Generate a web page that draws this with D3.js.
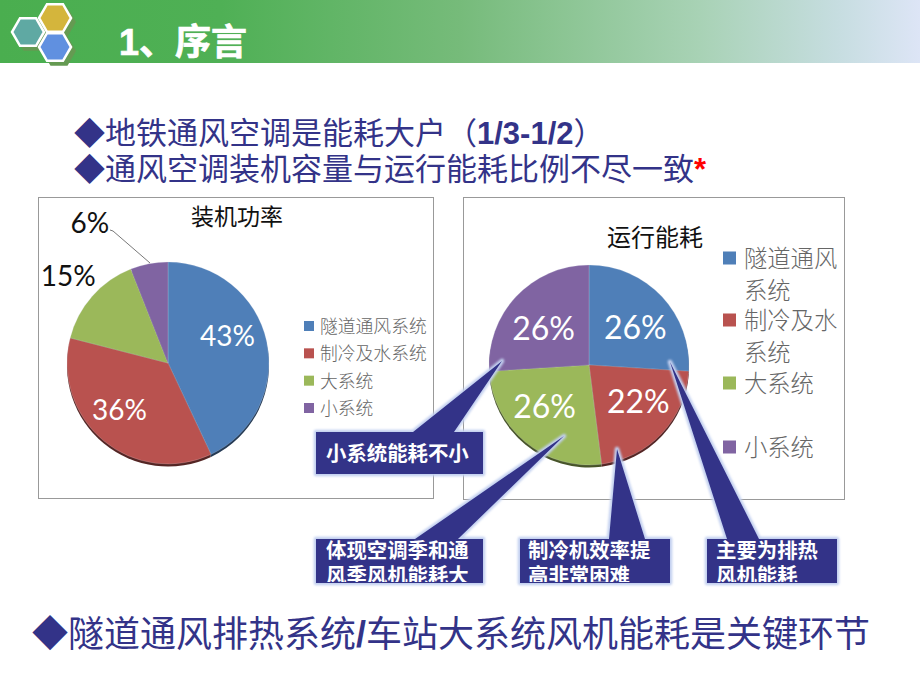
<!DOCTYPE html>
<html>
<head>
<meta charset="utf-8">
<script src="https://cdn.jsdelivr.net/npm/d3@7"></script>
<style>
  html, body { margin: 0; background: #fff; }
  text { font-family: "Liberation Sans", "Noto Sans CJK SC", sans-serif; }
</style>
</head>
<body>
<div id="viz"></div>
<script>
const width = 920;
const height = 690;

// chart values
const categories = ['隧道通风系统', '制冷及水系统', '大系统', '小系统'];
const powerShares = [43, 36, 15, 6];
const energyShares = [26, 22, 26, 26];
const sliceColors = ['#4f7fb8', '#b9524f', '#9bb85a', '#8064a2'];

// label nudges from the slice centroid, the pptx had these dragged around by hand
const powerNudges = [[-4, -13], [-7, -3], [-51, -44], [-66, -76]];
const energyNudges = [[-1, 7], [2, -8], [-3, -9], [2, 8]];

const navy = '#333388';

const svg = d3.select('#viz')
  .append('svg')
    .attr('width', width)
    .attr('height', height)
    .style('display', 'block');

const defs = svg.append('defs');

const headerGradient = defs.append('linearGradient').attr('id', 'headerGradient');
[[0, '#4aae4f'], [0.24, '#4fb055'], [0.5, '#76bb7a'], [0.76, '#a8d2b5'], [0.91, '#c6dde0'], [1, '#dde5f6']]
  .forEach(s => headerGradient.append('stop').attr('offset', s[0]).attr('stop-color', s[1]));

defs.append('filter').attr('id', 'glow')
  .attr('x', '-20%').attr('y', '-20%').attr('width', '140%').attr('height', '140%')
  .append('feGaussianBlur').attr('stdDeviation', 1.3);

// header band
svg.append('rect')
  .attr('width', width)
  .attr('height', 63)
  .attr('fill', 'url(#headerGradient)');

// hexagons in the corner
const hexLine = d3.line().curve(d3.curveLinearClosed);
const hexPoints = (cx, cy, r) => d3.range(6).map(i => [
  cx + r * Math.cos(i * Math.PI / 3),
  cy + r * Math.sin(i * Math.PI / 3)
]);
const hexagons = [
  {cx: 28, cy: 32, color: '#5fa9a3'},
  {cx: 55, cy: 18, color: '#d4b53c'},
  {cx: 55, cy: 47, color: '#6090e0'}
];
svg.selectAll('.hexShadow')
  .data(hexagons)
  .join('path')
    .attr('class', 'hexShadow')
    .attr('d', d => hexLine(hexPoints(d.cx + 4, d.cy + 4, 17)))
    .attr('fill', '#659a52');
svg.selectAll('.hex')
  .data(hexagons)
  .join('path')
    .attr('class', 'hex')
    .attr('d', d => hexLine(hexPoints(d.cx, d.cy, 16)))
    .attr('fill', d => d.color)
    .attr('stroke', '#fff')
    .attr('stroke-width', 2.5);

svg.append('text')
  .attr('x', 119)
  .attr('y', 55)
  .attr('fill', '#fff')
  .attr('stroke', '#fff')
  .attr('stroke-width', 0.7)
  .attr('font-size', 36)
  .attr('font-weight', 'bold')
  .text('1、序言');

// bullet lines
function bullet(x, y, size) {
  svg.append('text')
    .attr('x', x)
    .attr('y', y)
    .attr('fill', navy)
    .attr('font-size', size)
    .text('◆');
}
bullet(74, 144, 31);
const line1 = svg.append('text').attr('x', 105).attr('y', 144).attr('fill', navy).attr('font-size', 31);
line1.append('tspan').text('地铁通风空调是能耗大户（');
line1.append('tspan').attr('font-weight', 'bold').text('1/3-1/2');
line1.append('tspan').text('）');

bullet(74, 180, 31);
const line2 = svg.append('text').attr('x', 105).attr('y', 180).attr('fill', navy).attr('font-size', 31);
line2.append('tspan').text('通风空调装机容量与运行能耗比例不尽一致');
line2.append('tspan').attr('fill', '#f00').attr('font-weight', 'bold').text('*');

bullet(32, 647, 36);
const line3 = svg.append('text').attr('x', 68).attr('y', 647).attr('fill', navy).attr('font-size', 36);
line3.append('tspan').text('隧道通风排热系统');
line3.append('tspan').attr('font-weight', 'bold').text('/');
line3.append('tspan').text('车站大系统风机能耗是关键环节');

// draws one framed pie with its title and labels
function drawPie(opts) {
  const g = svg.append('g');

  g.append('rect')
    .attr('x', opts.frame[0])
    .attr('y', opts.frame[1])
    .attr('width', opts.frame[2])
    .attr('height', opts.frame[3])
    .attr('fill', '#fff')
    .attr('stroke', '#999')
    .attr('stroke-width', 1);

  g.append('text')
    .attr('x', opts.titleX)
    .attr('y', opts.titleY)
    .attr('text-anchor', 'middle')
    .attr('font-size', opts.titleSize)
    .attr('fill', '#111')
    .text(opts.title);

  const pieGenerator = d3.pie().value(d => d).sort(null);
  const arcGenerator = d3.arc().innerRadius(0).outerRadius(opts.r);
  const labelArc = d3.arc().innerRadius(65).outerRadius(65);
  const slices = pieGenerator(opts.values);

  const pie = g.append('g')
    .attr('transform', `translate(${opts.cx}, ${opts.cy})`);

  // dark rim below the pie, the fake 3d edge
  pie.selectAll('.rim')
    .data(slices)
    .join('path')
      .attr('class', 'rim')
      .attr('d', arcGenerator)
      .attr('transform', 'translate(0, 2.5)')
      .attr('fill', (d, i) => d3.color(sliceColors[i]).darker(2.2));

  pie.selectAll('.slice')
    .data(slices)
    .join('path')
      .attr('class', 'slice')
      .attr('d', arcGenerator)
      .attr('fill', (d, i) => sliceColors[i])
      .attr('stroke', '#dfe4ee')
      .attr('stroke-opacity', 0.35)
      .attr('stroke-width', 0.6);

  pie.selectAll('.sliceLabel')
    .data(slices)
    .join('text')
      .attr('class', 'sliceLabel')
      .attr('x', (d, i) => labelArc.centroid(d)[0] + opts.nudges[i][0])
      .attr('y', (d, i) => labelArc.centroid(d)[1] + opts.nudges[i][1])
      .attr('dy', '0.36em')
      .attr('text-anchor', 'middle')
      .attr('font-size', opts.labelSize)
      .style('font-family', 'Lato')
      .attr('fill', (d, i) => opts.darkLabels.includes(i) ? '#111' : '#fff')
      .text(d => d.data + '%');

  return g;
}

const powerChart = drawPie({
  frame: [38.5, 197.5, 395, 301],
  title: '装机功率', titleX: 237, titleY: 225, titleSize: 23,
  cx: 168, cy: 363, r: 101,
  values: powerShares, nudges: powerNudges,
  labelSize: 28, darkLabels: [2, 3]
});

// leader line for the 6% label
powerChart.append('path')
  .attr('d', d3.line()([[110, 230], [113, 231], [150, 263]]))
  .attr('fill', 'none')
  .attr('stroke', '#555')
  .attr('stroke-width', 0.8);

const energyChart = drawPie({
  frame: [463.5, 197.5, 381, 302],
  title: '运行能耗', titleX: 655, titleY: 246, titleSize: 24,
  cx: 589, cy: 365, r: 100,
  values: energyShares, nudges: energyNudges,
  labelSize: 32, darkLabels: []
});

// legends
const legendFill = '#666';
const powerLegendY = d3.scalePoint().domain(categories).range([326, 408]);
const powerLegend = powerChart.selectAll('.legendItem')
  .data(categories)
  .join('g')
    .attr('class', 'legendItem')
    .attr('transform', d => `translate(304, ${powerLegendY(d)})`);
powerLegend.append('rect')
  .attr('y', -5).attr('width', 10).attr('height', 10)
  .attr('fill', (d, i) => sliceColors[i]);
powerLegend.append('text')
  .attr('x', 16).attr('dy', '0.4em')
  .attr('font-size', 17.8).attr('font-weight', 300).attr('fill', legendFill)
  .text(d => d);

// right legend wraps after four characters, third entry leaves a blank line
const energyLegendTop = [258, 320, 383, 447];
const energyLegend = energyChart.selectAll('.legendItem')
  .data(categories)
  .join('g')
    .attr('class', 'legendItem')
    .attr('transform', (d, i) => `translate(723, ${energyLegendTop[i]})`);
energyLegend.append('rect')
  .attr('y', -6.5).attr('width', 13).attr('height', 13)
  .attr('fill', (d, i) => sliceColors[i]);
energyLegend.append('text')
  .attr('x', 21).attr('dy', '0.4em')
  .attr('font-size', 23.3).attr('font-weight', 300).attr('fill', legendFill)
  .text(d => d.length > 4 ? d.slice(0, 4) : d);
energyLegend.filter(d => d.length > 4).append('text')
  .attr('x', 21).attr('y', 32).attr('dy', '0.4em')
  .attr('font-size', 23.3).attr('font-weight', 300).attr('fill', legendFill)
  .text(d => d.slice(4));

// callouts: a box with a wedge out to the slice
const callouts = [
  {box: [316, 432, 167, 42], base: [413, 454], tip: [502, 361], lines: ['小系统能耗不小'], textX: 326, textY: 461},
  {box: [316, 539, 167, 44], base: [415, 458], tip: [564, 436], lines: ['体现空调季和通', '风季风机能耗大'], textX: 326, textY: 558},
  {box: [520, 539, 150, 44], base: [609, 645], tip: [617, 449], lines: ['制冷机效率提', '高非常困难'], textX: 528, textY: 558},
  {box: [707, 539, 130, 44], base: [727, 759], tip: [670, 362], lines: ['主要为排热', '风机能耗'], textX: 716, textY: 558}
];

const calloutLine = d3.line().curve(d3.curveLinearClosed);
const calloutShape = c => {
  const [x, y, w, h] = c.box;
  return calloutLine([[x, y], [c.base[0], y], c.tip, [c.base[1], y], [x + w, y], [x + w, y + h], [x, y + h]]);
};

const callout = svg.selectAll('.callout')
  .data(callouts)
  .join('g')
    .attr('class', 'callout');

callout.append('path')
  .attr('d', calloutShape)
  .attr('fill', 'none')
  .attr('stroke', '#c3d0f0')
  .attr('stroke-width', 4.5)
  .attr('stroke-linejoin', 'round')
  .attr('filter', 'url(#glow)');

callout.append('path')
  .attr('d', calloutShape)
  .attr('fill', navy);

// second text line runs past the box bottom and gets cut off
callout.append('clipPath')
  .attr('id', (d, i) => `boxClip-${i}`)
  .append('rect')
    .attr('x', d => d.box[0])
    .attr('y', d => d.box[1])
    .attr('width', d => d.box[2])
    .attr('height', d => d.box[3] - 1);

const calloutText = callout.append('g')
  .attr('clip-path', (d, i) => `url(#boxClip-${i})`);

calloutText.selectAll('text')
  .data(d => d.lines.map((line, i) => ({line, x: d.textX, y: d.textY + i * 25})))
  .join('text')
    .attr('x', d => d.x)
    .attr('y', d => d.y)
    .attr('fill', '#fff')
    .attr('font-size', 20.4)
    .attr('font-weight', 'bold')
    .text(d => d.line);
</script>
</body>
</html>
